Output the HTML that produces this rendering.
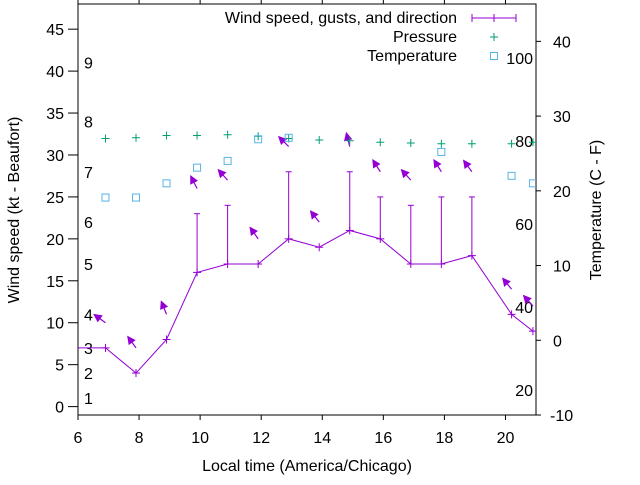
<!DOCTYPE html>
<html><head><meta charset="utf-8"><style>
body{margin:0;background:#fff}
svg{font-family:"Liberation Sans",sans-serif;font-size:16px}
</style></head><body>
<svg id="c" width="640" height="480" viewBox="0 0 640 480"></svg>
<script>
const times=[5.9,6.9,7.9,8.9,9.9,10.9,11.9,12.9,13.9,14.9,15.9,16.9,17.9,18.9,20.2,20.9];
const wind=[7,7,4,8,16,17,17,20,19,21,20,17,17,18,11,9];
const gust=[7,7,4,8,23,24,17,28,19,28,25,24,25,25,11,9];
const dirFrom=[126,126,144,158,153,138,145,135,142,166,148,138,148,144,141,138];
const presTimes=[6.9,7.9,8.9,9.9,10.9,11.9,12.9,13.9,14.9,15.9,16.9,17.9,18.9,20.2,20.9];
const pres=[27.0,27.1,27.4,27.4,27.5,27.3,27.0,26.8,26.7,26.5,26.4,26.3,26.3,26.3,26.5];
const tempTimes=[6.9,7.9,8.9,9.9,10.9,11.9,12.9,17.9,20.2,20.9];
const temp=[19.1,19.1,21.0,23.1,24.0,26.9,27.1,25.2,22.0,21.0];
const xTicks=[6,8,10,12,14,16,18,20];
const yTicks=[0,5,10,15,20,25,30,35,40,45];
const y2Ticks=[-10,0,10,20,30,40];
const beaufort=[1,4,7,11,17,22,28,34,41];
const fLabels=[20,40,60,80,100];
const L=78,R=536,T=4,B=415;
const X=t=>L+(t-6)/15*(R-L);
const Y=v=>B-(v+1)/49*(B-T);
const Y2=v=>B-(v+10)/55*(B-T);
const svg=document.getElementById('c');const NS='http://www.w3.org/2000/svg';
function mk(tag,a,p){const e=document.createElementNS(NS,tag);for(const k in a)e.setAttribute(k,a[k]);(p||svg).appendChild(e);return e;}
function txt(s,a,p){const e=mk('text',a,p);e.textContent=s;return e;}
const P='#9400d3',G='#009e73',C='#56b4e9';
const defs=mk('defs',{});const cp=mk('clipPath',{id:'clip'},defs);mk('rect',{x:L,y:T,width:R-L,height:B-T},cp);
let fr=mk('rect',{x:L,y:T,width:R-L,height:B-T,fill:'none',stroke:'#000','stroke-width':1});

xTicks.forEach(t=>{const x=X(t);mk('line',{x1:x,y1:B,x2:x,y2:B+5,stroke:'#000'});mk('line',{x1:x,y1:T,x2:x,y2:T-5,stroke:'#000'});
 let e=txt(t,{x:x,y:B+28,'text-anchor':'middle'});});
yTicks.forEach(v=>{const y=Y(v);mk('line',{x1:L,y1:y,x2:L-10,y2:y,stroke:'#000'});
 let e=txt(v,{x:64,y:y+6,'text-anchor':'end'});});
y2Ticks.forEach(v=>{const y=Y2(v);mk('line',{x1:R,y1:y,x2:R+5,y2:y,stroke:'#000'});
 let e=txt(v,{x:v<0?550:553,y:y+6});});
beaufort.forEach((v,i)=>{let e=txt(i+1,{x:84,y:Y(v)+6});});
fLabels.forEach(f=>{let e=txt(f,{x:533,y:Y2((f-32)*5/9)+6,'text-anchor':'end'});});
let e;
e=txt('Wind speed (kt - Beaufort)',{transform:'translate(19,210) rotate(-90)','text-anchor':'middle'});
e=txt('Local time (America/Chicago)',{x:307,y:471,'text-anchor':'middle'});
e=txt('Temperature (C - F)',{transform:'translate(601,210) rotate(-90)','text-anchor':'middle'});
const g=mk('g',{'clip-path':'url(#clip)'});
e=mk('polyline',{points:times.map((t,i)=>X(t)+','+Y(wind[i])).join(' '),fill:'none',stroke:P,'stroke-width':1},g);

times.forEach((t,i)=>{const x=X(t),y=Y(wind[i]);
 mk('line',{x1:x-4,y1:y,x2:x+4,y2:y,stroke:P},g);mk('line',{x1:x,y1:y-4,x2:x,y2:y+4,stroke:P},g);
 if(gust[i]>wind[i]){const gy=Y(gust[i]);e=mk('line',{x1:x,y1:y,x2:x,y2:gy,stroke:P},g);mk('line',{x1:x-3,y1:gy,x2:x+3,y2:gy,stroke:P},g);}
 const ty=Y(gust[i]+3),a=(dirFrom[i]+180)*Math.PI/180,len=14;
 const dx=Math.sin(a)*len,dy=-Math.cos(a)*len,hx=x+dx,hy=ty+dy;
 e=mk('line',{x1:x,y1:ty,x2:hx,y2:hy,stroke:P,'stroke-width':1.2},g);
 const ux=dx/len,uy=dy/len,px=-uy,py=ux;
 mk('polygon',{points:`${hx},${hy} ${hx-ux*7+px*3.5},${hy-uy*7+py*3.5} ${hx-ux*7-px*3.5},${hy-uy*7-py*3.5}`,fill:P,stroke:P},g);
});
presTimes.forEach((t,i)=>{const x=X(t),y=Y2(pres[i]);e=mk('path',{d:`M${x-4},${y}H${x+4}M${x},${y-4}V${y+4}`,stroke:G},g);});
tempTimes.forEach((t,i)=>{const x=X(t),y=Y2(temp[i]);e=mk('rect',{x:x-3.5,y:y-3.5,width:7,height:7,fill:'none',stroke:C},g);});
const lg=mk('g',{});
txt('Wind speed, gusts, and direction',{x:457,y:23,'text-anchor':'end'},lg);
mk('path',{d:'M472,18H516M472,14V22M516,14V22M494,14V22',stroke:P},lg);
txt('Pressure',{x:457,y:42,'text-anchor':'end'},lg);
mk('path',{d:'M490,37H498M494,33V41',stroke:G},lg);
txt('Temperature',{x:457,y:61,'text-anchor':'end'},lg);
mk('rect',{x:490.5,y:52.5,width:7,height:7,fill:'none',stroke:C},lg);
</script></body></html>
